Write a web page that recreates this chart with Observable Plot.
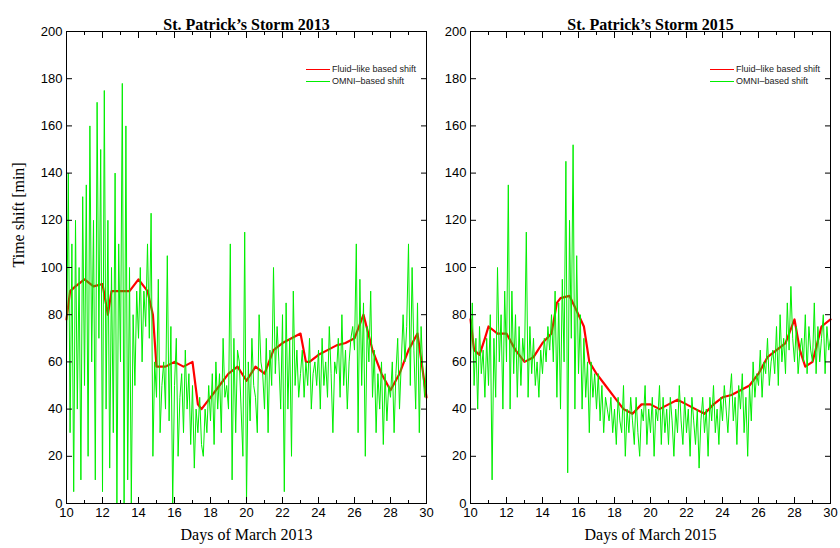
<!DOCTYPE html>
<html><head><meta charset="utf-8">
<script src="https://cdn.jsdelivr.net/npm/d3@7"></script>
<script src="https://cdn.jsdelivr.net/npm/@observablehq/plot@0.6"></script>
<style>
body{margin:0;background:#fff;}
#wrap{position:relative;width:840px;height:548px;}
.panel{position:absolute;top:0;}
.leg{position:absolute;font:9px "Liberation Sans",sans-serif;color:#222;line-height:12px;}
.leg span.l{display:inline-block;width:24px;height:0;border-top:1px solid;vertical-align:middle;margin-right:2px;}
</style></head><body><div id="wrap"></div>
<script>
const days = d3.range(10, 30.001, 0.1).map(d => +d.toFixed(1));
const redDays2013 = [10,10.2,10.5,11,11.5,12,12.3,12.5,13,13.5,14,14.5,14.8,15,15.5,16,16.5,17,17.3,17.5,18,18.5,19,19.5,20,20.5,21,21.5,22,22.5,23,23.3,23.5,24,24.5,25,25.5,26,26.5,27,27.5,28,28.5,29,29.5,30];
const red2013 = [78,90,92,95,92,93,80,90,90,90,95,90,80,58,58,60,58,60,42,40,45,50,55,58,52,58,55,65,68,70,72,60,60,63,65,67,68,70,80,65,55,48,55,65,72,45];
const green2013 = [
60,140,30,110,5,120,40,100,10,130,
50,135,20,160,60,120,10,170,70,150,
5,175,40,120,15,100,30,140,0,110,
60,178,0,160,10,100,0,80,50,90,
70,100,60,90,75,110,70,123,20,60,
45,95,30,50,60,40,105,35,75,0,
50,70,20,45,55,30,65,40,55,25,
50,15,40,30,45,25,20,40,30,50,
35,55,25,60,40,55,30,70,45,50,
40,110,10,70,30,65,60,40,20,115,
0,60,35,70,50,45,30,80,60,55,
40,70,30,65,50,100,55,75,60,40,
80,5,85,40,70,20,90,50,65,45,
55,65,45,60,50,70,40,55,60,50,
65,40,70,50,60,45,75,55,30,60,
55,70,45,80,50,65,40,60,70,75,
65,110,30,95,50,85,20,75,60,90,
45,65,30,55,40,60,25,55,35,50,
45,60,30,55,70,40,60,80,60,75,
110,50,100,65,40,85,30,75,55,45,
60];
const redDays2015 = [10,10.2,10.5,10.8,11,11.5,12,12.5,13,13.5,14,14.5,14.8,15,15.5,16,16.3,16.6,17,17.5,18,18.5,19,19.5,20,20.5,21,21.5,22,22.5,23,23.5,24,24.5,25,25.5,26,26.5,27,27.5,28,28.3,28.6,29,29.5,30];
const red2015 = [78,65,63,70,75,72,72,65,60,62,68,72,85,87,88,80,75,60,55,50,45,40,38,42,42,40,42,44,42,40,38,42,45,46,48,50,55,62,65,68,78,65,58,60,75,78];
const green2015 = [
60,85,50,70,40,75,55,65,45,70,
50,80,10,70,45,100,60,80,40,90,
60,135,40,90,55,80,45,75,50,70,
60,115,45,75,55,70,50,60,45,65,
55,70,60,75,65,80,60,90,45,85,
40,95,60,145,13,120,70,152,40,105,
55,80,40,70,45,60,30,60,45,55,
40,55,35,50,30,45,40,35,45,30,
40,25,45,35,30,50,20,40,30,45,
35,25,45,30,20,40,35,50,25,40,
30,45,20,40,35,50,25,45,30,40,
25,45,35,20,40,30,50,35,25,45,
30,40,20,45,35,25,40,15,35,45,
30,40,20,45,35,50,30,40,25,45,
35,50,40,30,45,55,35,45,25,50,
40,55,30,45,20,50,35,60,45,55,
50,65,45,60,55,70,50,60,65,55,
75,50,80,60,70,55,85,65,92,70,
60,75,55,65,70,60,80,55,75,65,
60,85,55,75,60,70,80,55,75,65,
70];
const yTicks = d3.range(0, 201, 20);
const xTicks = d3.range(10, 31, 2);
const minorX = d3.range(10, 31, 1);

function panel(title, xlabel, redDays, red, green, left, width, ml, mr, ylabel) {
  const g = days.map((d,i)=>({d, v: green[i]}));
  const r = redDays.map((d,i)=>({d, v: red[i]}));
  const serif = '"Liberation Serif",serif';
  const p = Plot.plot({
    width, height: 548, marginLeft: ml, marginRight: mr, marginTop: 31, marginBottom: 45,
    style: {fontFamily: '"Liberation Sans",sans-serif', fontSize: "13px", color:"#000"},
    x: {domain: [10, 30]}, y: {domain: [0, 200]},
    marks: [
      Plot.line(r, {x:"d", y:"v", stroke:"#ff0000", strokeWidth: 2.2}),
      Plot.line(g, {x:"d", y:"v", stroke:"#00ee00", strokeWidth: 1}),
      Plot.frame({stroke:"#000"}),
      Plot.axisX({ticks: xTicks, tickSize: -6, tickPadding: 10, label: null}),
      Plot.axisX({ticks: minorX, tickSize: -3, text: null, label: null}),
      Plot.axisX({anchor:"top", ticks: xTicks, tickSize: -6, text: null, label: null}),
      Plot.axisX({anchor:"top", ticks: minorX, tickSize: -3, text: null, label: null}),
      Plot.axisY({ticks: yTicks, tickSize: -6, tickPadding: 10, label: null}),
      Plot.axisY({anchor:"right", ticks: yTicks, tickSize: -6, text: null, label: null}),
      Plot.text([title], {frameAnchor:"top", dy:-13, fontFamily: serif, fontWeight:"bold", fontSize: 16}),
      Plot.text([xlabel], {frameAnchor:"bottom", dy:36, fontFamily: serif, fontSize: 16}),
      ylabel ? Plot.text([ylabel], {frameAnchor:"left", dx:-48, rotate:-90, fontFamily: serif, fontSize: 16}) : null
    ]
  });
  p.classList.add("panel");
  p.style.left = left + "px";
  document.getElementById("wrap").appendChild(p);
}
panel("St. Patrick\u2019s Storm 2013", "Days of March 2013", redDays2013, red2013, green2013, 0, 440, 66, 14, "Time shift [min]");
panel("St. Patrick\u2019s Storm 2015", "Days of March 2015", redDays2015, red2015, green2015, 440, 400, 30, 10, null);

function legend(left, top) {
  const d = document.createElement("div");
  d.className = "leg"; d.style.left = left + "px"; d.style.top = top + "px";
  d.innerHTML = '<div><span class="l" style="border-color:#ff0000"></span>Fluid\u2013like based shift</div><div><span class="l" style="border-color:#00ee00"></span>OMNI\u2013based shift</div>';
  document.getElementById("wrap").appendChild(d);
}
legend(306, 63);
legend(710, 63);
</script></body></html>
